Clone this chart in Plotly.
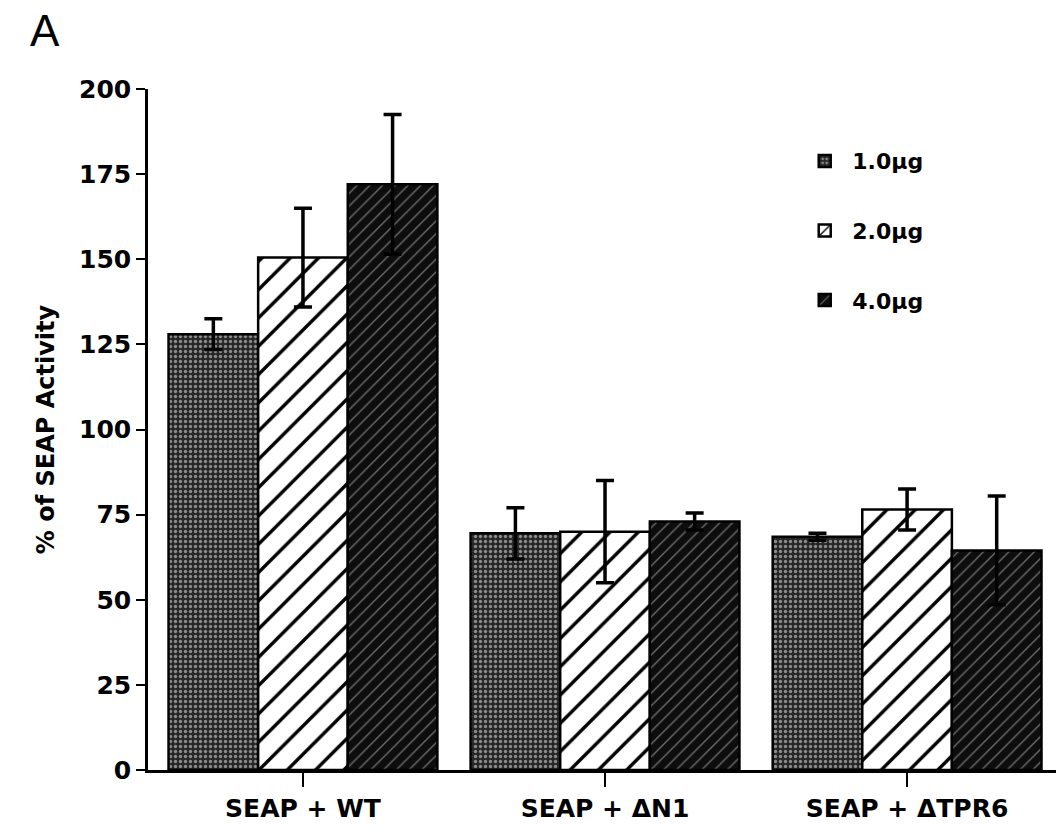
import plotly.graph_objects as go

categories = ["SEAP + WT", "SEAP + \u0394N1", "SEAP + \u0394TPR6"]
series_names = ["1.0\u00b5g", "2.0\u00b5g", "4.0\u00b5g"]
vals_1ug = [128, 69.5, 68.5]
vals_2ug = [150.5, 70, 76.5]
vals_4ug = [172, 73, 64.5]
err_1ug = [4.5, 7.5, 1]
err_2ug = [14.5, 15, 6]
err_4ug = [20.5, 2.5, 16]
y_ticks = [0, 25, 50, 75, 100, 125, 150, 175, 200]

styles = [
    dict(color="#262626", pattern=dict(shape=".", fgcolor="#8c8c8c", size=5, solidity=0.35, fgopacity=1)),
    dict(color="white", pattern=dict(shape="/", fgcolor="black", size=20, solidity=0.17, fgopacity=1)),
    dict(color="#0d0d0d", pattern=dict(shape="/", fgcolor="#6e6e6e", size=9, solidity=0.15, fgopacity=1)),
]

FONT = "DejaVu Sans, Liberation Sans, Arial, sans-serif"

fig = go.Figure()
for i, (name, v, e) in enumerate(zip(series_names, [vals_1ug, vals_2ug, vals_4ug], [err_1ug, err_2ug, err_4ug])):
    st = styles[i]
    fig.add_trace(go.Bar(
        x=categories, y=v, name=name, legendgroup=name,
        marker=dict(color=st["color"], pattern=dict(fillmode="overlay", bgcolor=st["color"], **st["pattern"]),
                    line=dict(color="black", width=2.5)),
        error_y=dict(type="data", array=e, visible=True, color="black", thickness=3.5, width=9),
    ))

fig.update_layout(
    width=1058, height=829,
    margin=dict(l=148, r=2, t=89, b=59),
    paper_bgcolor="white", plot_bgcolor="white",
    barmode="group", bargap=0.11, bargroupgap=0,
    font=dict(family=FONT, color="black", weight="bold"),
    legend=dict(x=0.715, y=0.925, xanchor="left", yanchor="top", bgcolor="rgba(0,0,0,0)",
                font=dict(size=22, family=FONT, weight="bold"), tracegroupgap=38, itemwidth=45),
    showlegend=True,
)
fig.update_xaxes(
    range=[-0.513, 2.493], showline=True, linecolor="black", linewidth=2.5,
    ticks="outside", ticklen=14, tickwidth=2, tickcolor="black",
    tickfont=dict(size=25, family=FONT, weight="bold"), showgrid=False, zeroline=False,
)
fig.update_yaxes(
    range=[0, 200], tickvals=y_ticks, showline=True, linecolor="black", linewidth=2.5,
    ticks="outside", ticklen=9, tickwidth=2, tickcolor="black",
    tickfont=dict(size=25, family=FONT, weight="bold"), showgrid=False, zeroline=False,
    title=dict(text="% of SEAP Activity", font=dict(size=24, family=FONT, weight="bold"), standoff=18),
)
fig.add_annotation(text="A", xref="paper", yref="paper", x=-0.1134, y=1.0866, xanchor="center", yanchor="middle",
                   showarrow=False, font=dict(size=44, family="Liberation Sans, Arial, sans-serif", weight="normal"))
fig.write_html("out.html")
